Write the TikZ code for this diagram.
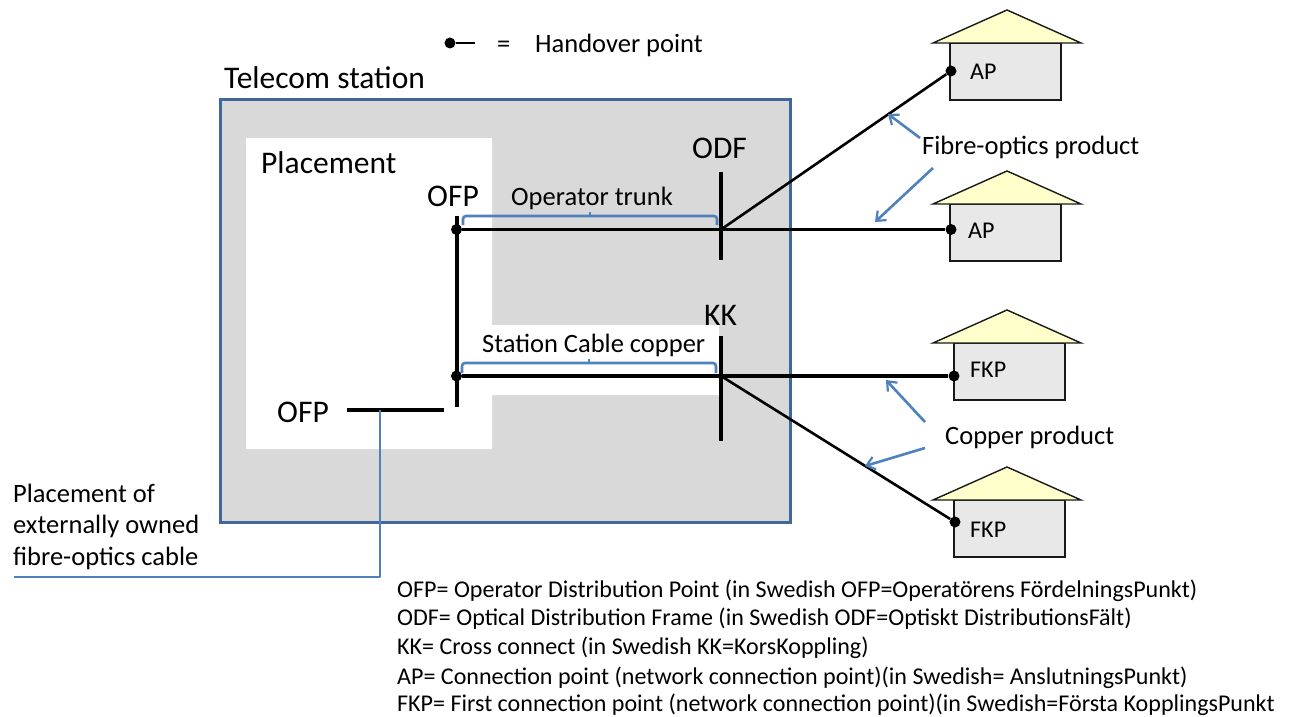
\documentclass[tikz,border=0pt]{standalone}
\usepackage{fontspec}
\setmainfont{Carlito}
\usetikzlibrary{arrows.meta,calc}
\definecolor{blueln}{HTML}{4F81BD}
\definecolor{frameln}{HTML}{3F6797}
\definecolor{greyfill}{HTML}{D9D9D9}
\definecolor{roof}{HTML}{FFFFCC}
\definecolor{wall}{HTML}{E8E8E8}
\tikzset{
 x=1pt,y=-1pt,
 lbl/.style={inner sep=0pt,anchor=base west,font=\fontsize{26.5}{30}\selectfont},
 big/.style={inner sep=0pt,anchor=base west,font=\fontsize{31.5}{36}\selectfont},
 small/.style={inner sep=0pt,anchor=base west,font=\fontsize{24.05}{28}\selectfont},
 fib/.style={line width=2.6pt,black},
 bar/.style={line width=4pt,black},
 bl/.style={line width=2.6pt,blueln,rounded corners=3pt},
 blc/.style={line width=2.8pt,blueln,line join=round},
 ar/.style={line width=2.6pt,blueln,-{Straight Barb[length=8pt,width=13pt,line width=2.2pt]}},
 dotn/.style={circle,fill=black,inner sep=0pt,minimum size=11pt},
}
\begin{document}
\begin{tikzpicture}
\useasboundingbox (0,0) rectangle (1294,717);
\fill[white] (0,0) rectangle (1294,717);
\node[draw=frameln,line width=3pt,fill=greyfill,minimum width=570.5pt,minimum height=422pt,inner sep=0pt,outer sep=0pt,anchor=north west] (station) at (220,100) {};
\fill[white] (246,138) -- (492,138) -- (492,325) -- (719,325) -- (719,395) -- (492,395) -- (492,449) -- (246,449) -- cycle;
\foreach \nm/\x/\y/\t/\tx/\ty in {h1/950/43/AP/970/80,h2/950/204/AP/968/238,h3/954/343/FKP/970/377,h4/954/500/FKP/970/537}{
 \node[draw=black!90,line width=1.5pt,fill=wall,minimum width=111pt,minimum height=57pt,inner sep=0pt,outer sep=0pt,anchor=north west] (\nm) at (\x,\y) {};
 \draw[black!90,line width=1.4pt,fill=roof,line join=miter] (933,\y) -- (1007,\y-33) -- (1081,\y) -- cycle;
 \node[small] (\nm t) at (\tx,\ty) {\t};
}
\coordinate (odf) at (721,229.5);
\coordinate (kk) at (721,376);
\node[dotn] (d1) at (456.5,229.5) {};
\node[dotn] (d2) at (456.5,376) {};
\node[dotn] (e1) at (951,71) {};
\node[dotn] (e2) at (951,229.5) {};
\node[dotn] (e3) at (954,376) {};
\node[dotn] (e4) at (955,522) {};
\node[dotn] (leg) at (450,43) {};
\coordinate (lege) at (475,43);
\draw[fib] (leg) -- (lege);
\coordinate (v1) at (457,216);
\coordinate (v2) at (457,407);
\draw[bar] (v1) -- (v2);
\coordinate (h1a) at (347,410);
\coordinate (h1b) at (444,410);
\draw[bar] (h1a) -- (h1b);
\coordinate (o1) at (721,172);
\coordinate (o2) at (721,260);
\draw[bar] (o1) -- (o2);
\coordinate (k1) at (721,336);
\coordinate (k2) at (721,441);
\draw[bar] (k1) -- (k2);
\draw[fib] (d1) -- (e2);
\draw[fib,line width=3.2pt] (d2) -- (e3);
\draw[fib] (odf) -- (e1);
\draw[fib] (kk) -- (e4);
% brackets
\draw[bl] (463,225) -- (463,216) -- (717,216) -- (717,225);
\draw[blc] (590,216) -- (590,212);
\draw[bl] (462,373) -- (462,363) -- (716,363) -- (716,373);
\draw[blc] (589,363) -- (589,359);
% external cable
\coordinate (cab) at (14,577);
\coordinate (cabc) at (380,577);
\draw[blc] (h1a -| cabc) -- (cabc) -- (cab);
% arrows
\draw[ar] (920,138) -- (888,114);
\draw[ar] (933,168) -- (875,222);
\draw[ar] (925,422) -- (886,380);
\draw[ar] (925,448) -- (865,466);
% text
\node[lbl] (tleg) at (497,53) {=};
\node[lbl] (thand) at (535,53) {Handover point};
\node[big] (ttel) at (224,88.5) {Telecom station};
\node[big] (tpl) at (261,173) {Placement};
\node[big] (to1) at (427,206) {OFP};
\node[big] (todf) at (692,158) {ODF};
\node[big] (tkk) at (704,325) {KK};
\node[big] (to2) at (277,422) {OFP};
\node[lbl] (top) at (511,205) {Operator trunk};
\node[lbl] (tsc) at (482,352) {Station Cable copper};
\node[lbl] (tfo) at (922,154) {Fibre-optics product};
\node[lbl] (tcu) at (945,444) {Copper product};
\node[lbl] (p1) at (13,502) {Placement of};
\node[lbl] (p2) at (13,533) {externally owned};
\node[lbl] (p3) at (13,565) {fibre-optics cable};
\node[small] (l1) at (397,597.5) {OFP= Operator Distribution Point (in Swedish OFP=Operatörens FördelningsPunkt)};
\node[small] (l2) at (397,625.5) {ODF= Optical Distribution Frame (in Swedish ODF=Optiskt DistributionsFält)};
\node[small] (l3) at (397,654) {KK= Cross connect (in Swedish KK=KorsKoppling)};
\node[small] (l4) at (397,684.5) {AP= Connection point (network connection point)(in Swedish= AnslutningsPunkt)};
\node[small] (l5) at (397,711) {FKP= First connection point (network connection point)(in Swedish=Första KopplingsPunkt};
\end{tikzpicture}
\end{document}
